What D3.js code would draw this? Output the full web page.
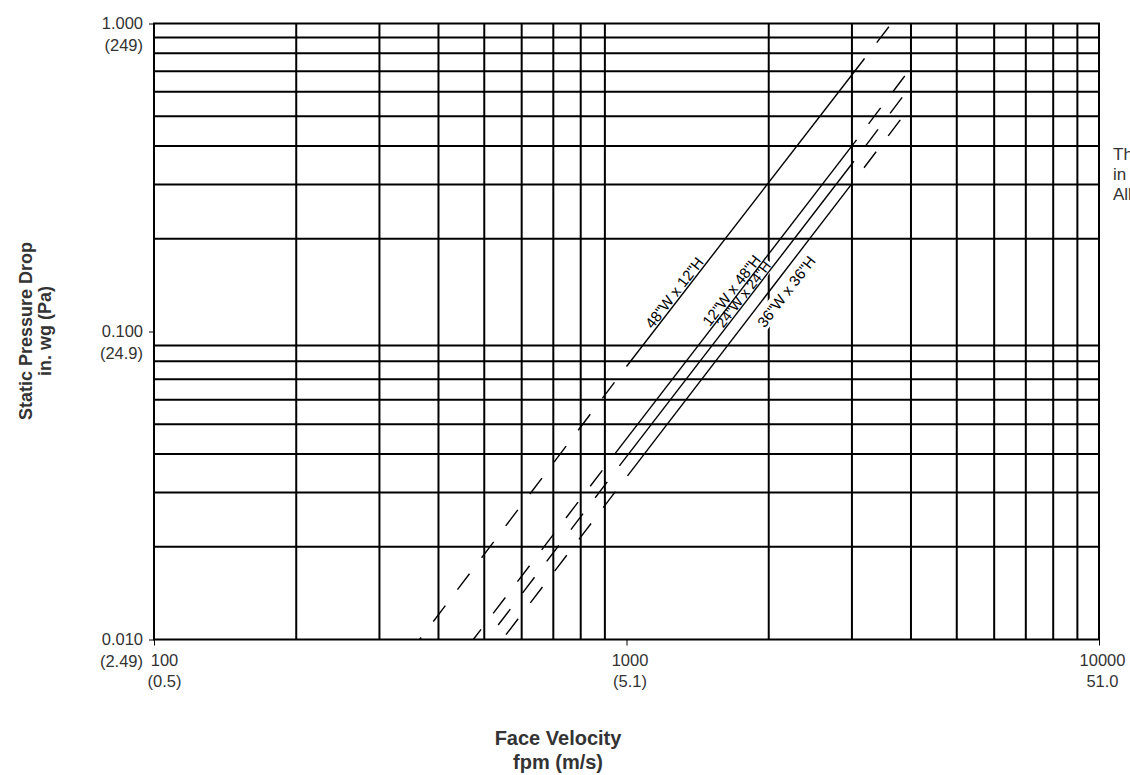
<!DOCTYPE html>
<html>
<head>
<meta charset="utf-8">
<script src="https://cdn.jsdelivr.net/npm/d3@7/dist/d3.min.js"></script>
<style>
  body { margin: 0; background: #fff; }
  svg text { font-family: "Liberation Sans", Arial, Helvetica, sans-serif; }
</style>
</head>
<body>
<div id="chart"></div>
<script>
// Face velocity (fpm): labelled ticks, their two-line labels, and grid values
const xTicks = [100, 1000, 10000];
const xTickLabels = [["100", "(0.5)"], ["1000", "(5.1)"], ["10000", "51.0"]];
const xGrid = [200, 300, 400, 500, 600, 700, 800, 900,
               2000, 3000, 4000, 5000, 6000, 7000, 8000, 9000];

// Static pressure drop (in. wg)
const yTicks = [1.0, 0.1, 0.01];
const yTickLabels = [["1.000", "(249)"], ["0.100", "(24.9)"], ["0.010", "(2.49)"]];
const yGrid = [0.02, 0.03, 0.04, 0.05, 0.06, 0.07, 0.08, 0.09,
               0.2, 0.3, 0.4, 0.5, 0.6, 0.7, 0.8, 0.9];

// Filter sizes. Each curve: [dashed start, solid start, solid end, dashed end]
const seriesNames = ['48"W x 12"H', '12"W x 48"H', '24"W x 24"H', '36"W x 36"H'];
const velocities = [
  [365, 1000, 3190, 3636],
  [474, 943, 3068, 3913],
  [507, 966, 3029, 3876],
  [546, 1005, 3000, 3802]
];
const pressures = [
  [0.010, 0.077, 0.770, 1.000],
  [0.010, 0.0399, 0.419, 0.687],
  [0.010, 0.0366, 0.357, 0.589],
  [0.010, 0.0340, 0.302, 0.4875]
];
// velocity where each size label starts
const labelVelocity = [1144, 1512, 1612, 1822];

// Setup
const svgWidth = 1130;
const svgHeight = 775;

const svg = d3.select("#chart")
    .append("svg")
    .attr("width", svgWidth)
    .attr("height", svgHeight);

const x = d3.scaleLog()
    .domain([100, 10000])
    .range([154, 1099]);

const y = d3.scaleLog()
    .domain([0.01, 1])
    .range([639.5, 23.5]);

const ink = "#000";
const textInk = "#333";

// grid
const grid = svg.append("g")
    .attr("stroke", ink)
    .attr("stroke-width", 2);

grid.selectAll(".vgrid")
    .data(xGrid)
    .join("line")
    .attr("class", "vgrid")
    .attr("x1", d => x(d)).attr("x2", d => x(d))
    .attr("y1", y(0.01)).attr("y2", y(1));

grid.selectAll(".hgrid")
    .data(yGrid)
    .join("line")
    .attr("class", "hgrid")
    .attr("x1", x(100)).attr("x2", x(10000))
    .attr("y1", d => y(d)).attr("y2", d => y(d));

grid.append("rect")
    .attr("x", x(100)).attr("y", y(1))
    .attr("width", x(10000) - x(100))
    .attr("height", y(0.01) - y(1))
    .attr("fill", "none");

// axes
const xAxis = svg.append("g")
    .attr("transform", `translate(0,${y(0.01)})`)
    .call(d3.axisBottom(x).tickValues(xTicks).tickSize(6).tickFormat(""));

const yAxis = svg.append("g")
    .attr("transform", `translate(${x(100)},0)`)
    .call(d3.axisLeft(y).tickValues(yTicks).tickSize(5).tickFormat(""));

svg.selectAll(".domain").remove();
svg.selectAll(".tick line").attr("stroke", ink).attr("stroke-width", 1);

xAxis.selectAll(".tick text").remove();
xAxis.selectAll(".tick").each(function(d, i) {
  const t = d3.select(this).append("text")
      .attr("fill", textInk)
      .attr("font-size", 16.5)
      .attr("text-anchor", "middle")
      .attr("transform", `translate(${i === 0 ? 10 : 3},0)`);
  t.append("tspan").attr("x", 0).attr("y", 26.5).text(xTickLabels[i][0]);
  t.append("tspan").attr("x", 0).attr("y", 47.5).text(xTickLabels[i][1]);
});

yAxis.selectAll(".tick text").remove();
yAxis.selectAll(".tick").each(function(d, i) {
  const t = d3.select(this).append("text")
      .attr("fill", textInk)
      .attr("font-size", 16.5)
      .attr("text-anchor", "end");
  t.append("tspan").attr("x", -11).attr("y", 5).text(yTickLabels[i][0]);
  t.append("tspan").attr("x", -11).attr("y", 27).text(yTickLabels[i][1]);
});

// curves
const pt = (i, k) => [x(velocities[i][k]), y(pressures[i][k])];

function labelPlace(i) {
  const [x0, y0] = pt(i, 1);
  const [x1, y1] = pt(i, 2);
  const px = x(labelVelocity[i]);
  const py = y0 + (px - x0) / (x1 - x0) * (y1 - y0);
  const angle = Math.atan2(y1 - y0, x1 - x0) * 180 / Math.PI;
  return {px, py, angle};
}

const labelSize = [15, 15, 14, 15];
const labelDy = [-2, -2, -1.5, 19];

// white boxes behind labels
const labelBg = svg.append("g");
const curves = svg.append("g")
    .attr("fill", "none")
    .attr("stroke", ink)
    .attr("stroke-width", 1.4);
const labels = svg.append("g");

const line = d3.line();

seriesNames.forEach((name, i) => {
  // lower dashed part drawn downward from the solid start
  curves.append("path")
      .attr("d", line([pt(i, 1), pt(i, 0)]))
      .attr("stroke-dasharray", "20,20")
      .attr("stroke-dashoffset", 20);
  curves.append("path")
      .attr("d", line([pt(i, 1), pt(i, 2)]));
  curves.append("path")
      .attr("d", line([pt(i, 2), pt(i, 3)]))
      .attr("stroke-dasharray", "20,20")
      .attr("stroke-dashoffset", 20);

  const p = labelPlace(i);
  const t = labels.append("text")
      .attr("transform", `translate(${p.px},${p.py}) rotate(${p.angle})`)
      .attr("y", labelDy[i])
      .attr("font-size", labelSize[i])
      .attr("fill", ink)
      .text(name);
  const len = t.node().getComputedTextLength();
  labelBg.append("rect")
      .attr("transform", `translate(${p.px},${p.py}) rotate(${p.angle})`)
      .attr("x", -2)
      .attr("y", labelDy[i] - labelSize[i] * 0.75 - 3)
      .attr("width", len + 4)
      .attr("height", labelSize[i] * 0.75 + 6)
      .attr("fill", "#fff");
});

// axis titles
svg.append("text")
    .attr("transform", `translate(31.5,331) rotate(-90)`)
    .attr("text-anchor", "middle")
    .attr("font-size", 18)
    .attr("font-weight", "bold")
    .attr("fill", textInk)
    .text("Static Pressure Drop");

svg.append("text")
    .attr("transform", `translate(50.5,331) rotate(-90)`)
    .attr("text-anchor", "middle")
    .attr("font-size", 18)
    .attr("font-weight", "bold")
    .attr("fill", textInk)
    .text("in. wg (Pa)");

svg.append("text")
    .attr("x", 558).attr("y", 745)
    .attr("text-anchor", "middle")
    .attr("font-size", 20)
    .attr("font-weight", "bold")
    .attr("fill", textInk)
    .text("Face Velocity");

svg.append("text")
    .attr("x", 558).attr("y", 769)
    .attr("text-anchor", "middle")
    .attr("font-size", 20)
    .attr("font-weight", "bold")
    .attr("fill", textInk)
    .text("fpm (m/s)");

// side note, cut off by the page edge
const note = svg.append("text")
    .attr("x", 1113)
    .attr("font-size", 17)
    .attr("fill", textInk);
note.append("tspan").attr("x", 1113).attr("y", 160).text("The");
note.append("tspan").attr("x", 1113).attr("y", 180).text("in");
note.append("tspan").attr("x", 1113).attr("y", 200).text("All");
</script>
</body>
</html>
